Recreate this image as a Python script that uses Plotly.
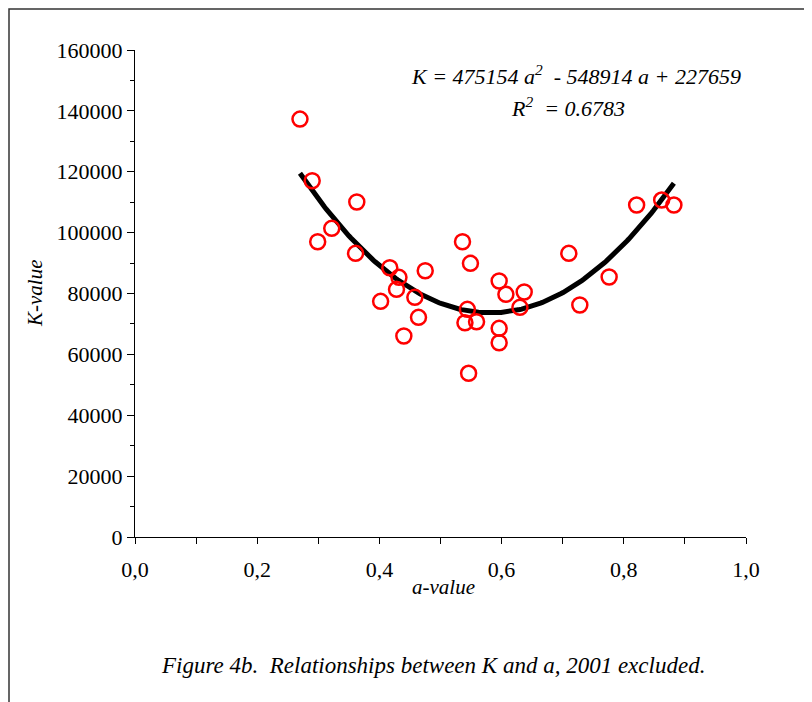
import numpy as np
import plotly.graph_objects as go

# data
a_values = [0.270, 0.290, 0.363, 0.322, 0.299, 0.361, 0.417, 0.432, 0.428, 0.402,
            0.458, 0.475, 0.464, 0.440, 0.536, 0.549, 0.544, 0.540, 0.559, 0.546,
            0.596, 0.607, 0.637, 0.630, 0.596, 0.596, 0.710, 0.728, 0.776, 0.821,
            0.862, 0.882]
k_values = [137300, 117040, 110050, 101400, 97000, 93200, 88470, 85300, 81370, 77430,
            78740, 87480, 72170, 66030, 97010, 89910, 74800, 70400, 70730, 53780,
            84100, 79730, 80480, 75460, 68560, 63830, 93200, 76210, 85410, 109060,
            110700, 109060]

x_tickvals = [0.0, 0.2, 0.4, 0.6, 0.8, 1.0]
x_ticktext = ["0,0", "0,2", "0,4", "0,6", "0,8", "1,0"]
y_tickvals = [0, 20000, 40000, 60000, 80000, 100000, 120000, 140000, 160000]

equation_text = "K = 475154 a<sup>2</sup>  - 548914 a + 227659"
r2_text = "R<sup>2</sup>  = 0.6783"
caption = "Figure 4b.  Relationships between K and a, 2001 excluded."

# quadratic trend line fitted to the points
coef = np.polyfit(a_values, k_values, 2)
xs = np.linspace(min(a_values), max(a_values), 200)
ys = np.polyval(coef, xs)

FONT = "Liberation Serif"

# page offset (body margin) is 8px; plot area in page: x 135-746, y 50-537
PL, PR, PT, PB = 135, 746, 50, 537
OFF = 8
W = PR - PL
H = PB - PT


def px(x):
    return (x - PL) / W


def py(y):
    return (PB - y) / H


fig = go.Figure()
fig.add_trace(go.Scatter(x=xs, y=ys, mode="lines",
                         line=dict(color="black", width=5), showlegend=False,
                         hoverinfo="skip"))
fig.add_trace(go.Scatter(x=a_values, y=k_values, mode="markers",
                         marker=dict(symbol="circle-open", size=15,
                                     line=dict(color="#ff0000", width=2.5),
                                     color="#ff0000"),
                         showlegend=False))

fig.update_layout(
    width=812, height=702,
    margin=dict(l=PL - OFF, r=812 - (PR - OFF), t=PT - OFF, b=702 - (PB - OFF)),
    paper_bgcolor="white", plot_bgcolor="white",
    font=dict(family=FONT, size=22, color="black"),
    xaxis=dict(range=[0, 1], tickvals=x_tickvals, ticktext=x_ticktext,
               showgrid=False, zeroline=False, showline=True, linecolor="black",
               linewidth=1, ticks="outside", ticklen=6, tickcolor="black",
               ticklabelstandoff=7,
               minor=dict(dtick=0.1, ticks="outside", ticklen=6, tickcolor="black",
                          showgrid=False)),
    yaxis=dict(range=[0, 160000], tickvals=y_tickvals, tickformat="d",
               showgrid=False, zeroline=False, showline=True, linecolor="black",
               linewidth=1, ticks="outside", ticklen=7, tickcolor="black",
               minor=dict(dtick=10000, ticks="outside", ticklen=4, tickcolor="black",
                          showgrid=False)),
    shapes=[dict(type="rect", xref="paper", yref="paper",
                 x0=px(OFF + 1), x1=px(900), y0=py(760), y1=py(OFF + 1),
                 line=dict(color="#333333", width=1.5), fillcolor="rgba(0,0,0,0)",
                 layer="below")],
    annotations=[
        dict(text="<i>" + equation_text + "</i>", xref="paper", yref="paper",
             x=px(576), y=py(75), showarrow=False, xanchor="center", yanchor="middle",
             font=dict(family=FONT, size=22, color="black")),
        dict(text="<i>" + r2_text + "</i>", xref="paper", yref="paper",
             x=px(568), y=py(107), showarrow=False, xanchor="center", yanchor="middle",
             font=dict(family=FONT, size=22, color="black")),
        dict(text="<i>a-value</i>", xref="paper", yref="paper", x=px(443),
             y=py(587), showarrow=False, xanchor="center", yanchor="middle",
             font=dict(family=FONT, size=21, color="black")),
        dict(text="<i>K-value</i>", xref="paper", yref="paper", x=px(35),
             y=py(293), showarrow=False, xanchor="center", yanchor="middle",
             textangle=-90, font=dict(family=FONT, size=21, color="black")),
        dict(text="<i>" + caption + "</i>", xref="paper", yref="paper",
             x=px(433), y=py(665), showarrow=False,
             xanchor="center", yanchor="middle",
             font=dict(family=FONT, size=23, color="black")),
    ],
)

fig.write_html("out.html")
